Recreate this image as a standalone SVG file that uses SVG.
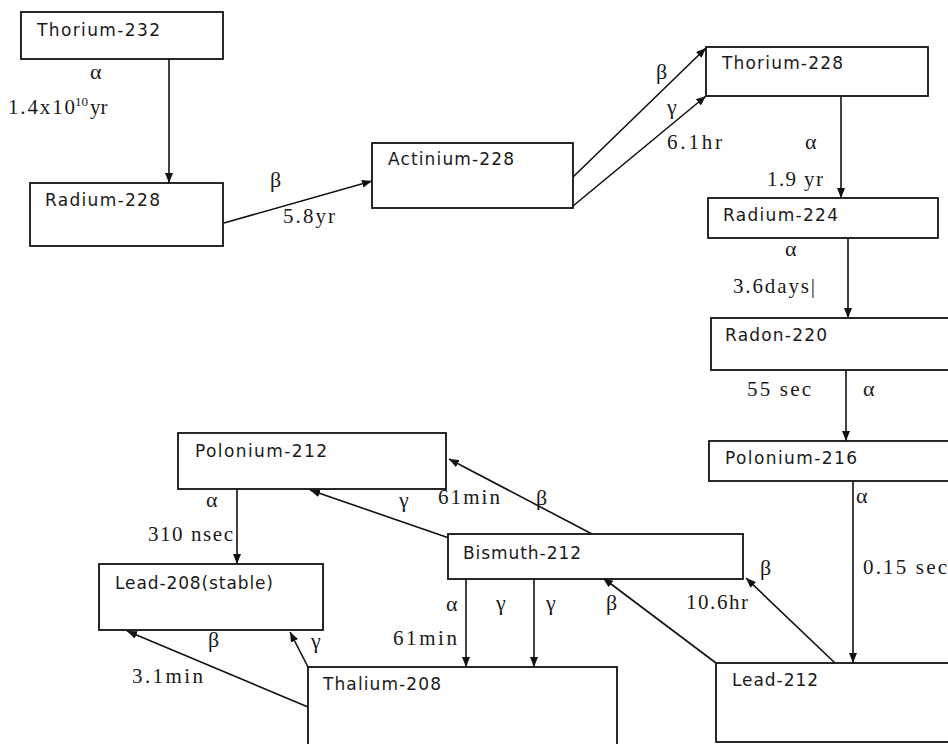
<svg xmlns="http://www.w3.org/2000/svg" width="948" height="744" viewBox="0 0 948 744">
<style>
.box{fill:#fff;stroke:#111;stroke-width:1.8}
.lbl{font-family:"DejaVu Sans","Verdana",sans-serif;font-size:17px;fill:#1a1a1a}
.s{font-family:"Liberation Serif","Times New Roman",serif;font-size:21px;fill:#1a1a1a}
.g{font-family:"Liberation Serif","Times New Roman",serif;font-size:22px;fill:#1a1a1a}
.c{stroke:#111;stroke-width:1.6;fill:none;marker-end:url(#ah)}
</style>
<defs>
<marker id="ah" markerUnits="userSpaceOnUse" markerWidth="10" markerHeight="8" refX="10" refY="4" orient="auto">
<path d="M0,0 L10,4 L0,8 z" fill="#111"/>
</marker>
</defs>
<rect width="948" height="744" fill="#fff"/>
<g id="connectors">
<line class="c" x1="169" y1="59" x2="169" y2="183"/>
<line class="c" x1="224" y1="223" x2="372" y2="181"/>
<line class="c" x1="573" y1="177" x2="706" y2="48"/>
<line class="c" x1="573" y1="206" x2="706" y2="96"/>
<line class="c" x1="841" y1="96" x2="841" y2="198"/>
<line class="c" x1="848" y1="238" x2="848" y2="318"/>
<line class="c" x1="846" y1="370" x2="846" y2="441"/>
<line class="c" x1="853" y1="481" x2="853" y2="663"/>
<line class="c" x1="835" y1="663" x2="746" y2="578"/>
<line class="c" x1="716" y1="663" x2="603" y2="578"/>
<line class="c" x1="592" y1="534" x2="449" y2="459"/>
<line class="c" x1="449" y1="538" x2="310" y2="490"/>
<line class="c" x1="237" y1="489" x2="237" y2="564"/>
<line class="c" x1="466" y1="579" x2="466" y2="667"/>
<line class="c" x1="534" y1="579" x2="534" y2="667"/>
<line class="c" x1="308" y1="707" x2="127" y2="631"/>
<line class="c" x1="308" y1="667" x2="290" y2="632"/>
</g>
<g id="th232"><rect class="box" x="21" y="12" width="202" height="47"/><text class="lbl" x="37" y="36" textLength="123" lengthAdjust="spacing">Thorium-232</text></g>
<g id="ra228"><rect class="box" x="30" y="183" width="193" height="63"/><text class="lbl" x="45" y="206" textLength="115" lengthAdjust="spacing">Radium-228</text></g>
<g id="ac228"><rect class="box" x="372" y="143" width="201" height="65"/><text class="lbl" x="388" y="165" textLength="126" lengthAdjust="spacing">Actinium-228</text></g>
<g id="th228"><rect class="box" x="706" y="47" width="222" height="49"/><text class="lbl" x="722" y="69" textLength="121" lengthAdjust="spacing">Thorium-228</text></g>
<g id="ra224"><rect class="box" x="708" y="198" width="230" height="40"/><text class="lbl" x="723" y="221" textLength="115" lengthAdjust="spacing">Radium-224</text></g>
<g id="rn220"><rect class="box" x="711" y="318" width="260" height="52"/><text class="lbl" x="725" y="341" textLength="102" lengthAdjust="spacing">Radon-220</text></g>
<g id="po216"><rect class="box" x="709" y="441" width="260" height="40"/><text class="lbl" x="725" y="464" textLength="132" lengthAdjust="spacing">Polonium-216</text></g>
<g id="po212"><rect class="box" x="178" y="433" width="268" height="56"/><text class="lbl" x="195" y="457" textLength="132" lengthAdjust="spacing">Polonium-212</text></g>
<g id="bi212"><rect class="box" x="448" y="534" width="295" height="45"/><text class="lbl" x="463" y="559" textLength="118" lengthAdjust="spacing">Bismuth-212</text></g>
<g id="pb208"><rect class="box" x="99" y="564" width="224" height="66"/><text class="lbl" x="115" y="589" textLength="158" lengthAdjust="spacing">Lead-208(stable)</text></g>
<g id="tl208"><rect class="box" x="308" y="667" width="309" height="100"/><text class="lbl" x="323" y="690" textLength="118" lengthAdjust="spacing">Thalium-208</text></g>
<g id="pb212"><rect class="box" x="716" y="663" width="260" height="79"/><text class="lbl" x="732" y="686" textLength="86" lengthAdjust="spacing">Lead-212</text></g>
<g id="labels">
<text class="g" x="90" y="79">α</text>
<text class="s"><tspan x="8" y="114" textLength="67" lengthAdjust="spacing">1.4x10</tspan><tspan x="75" y="106" font-size="13">10</tspan><tspan x="90" y="114">yr</tspan></text>
<text class="g" x="270" y="187">β</text>
<text class="s" x="283" y="223" textLength="52" lengthAdjust="spacing">5.8yr</text>
<text class="g" x="656" y="79">β</text>
<text class="g" x="667" y="114">γ</text>
<text class="s" x="667" y="149" textLength="55" lengthAdjust="spacing">6.1hr</text>
<text class="g" x="805" y="149">α</text>
<text class="s" x="767" y="186" textLength="56" lengthAdjust="spacing">1.9 yr</text>
<text class="g" x="785" y="256">α</text>
<text class="s" x="733" y="293" textLength="82" lengthAdjust="spacing">3.6days|</text>
<text class="s" x="747" y="396" textLength="64" lengthAdjust="spacing">55 sec</text>
<text class="g" x="863" y="396">α</text>
<text class="g" x="856" y="503">α</text>
<text class="s" x="863" y="574" textLength="84" lengthAdjust="spacing">0.15 sec</text>
<text class="g" x="760" y="575">β</text>
<text class="s" x="686" y="609" textLength="62" lengthAdjust="spacing">10.6hr</text>
<text class="g" x="606" y="610">β</text>
<text class="g" x="536" y="505">β</text>
<text class="s" x="438" y="504" textLength="62" lengthAdjust="spacing">61min</text>
<text class="g" x="399" y="507">γ</text>
<text class="g" x="206" y="507">α</text>
<text class="s" x="148" y="541" textLength="85" lengthAdjust="spacing">310 nsec</text>
<text class="g" x="446" y="611">α</text>
<text class="g" x="496" y="610">γ</text>
<text class="g" x="546" y="610">γ</text>
<text class="s" x="393" y="645" textLength="64" lengthAdjust="spacing">61min</text>
<text class="g" x="208" y="647">β</text>
<text class="s" x="132" y="683" textLength="71" lengthAdjust="spacing">3.1min</text>
<text class="g" x="311" y="648">γ</text>
</g>
</svg>
